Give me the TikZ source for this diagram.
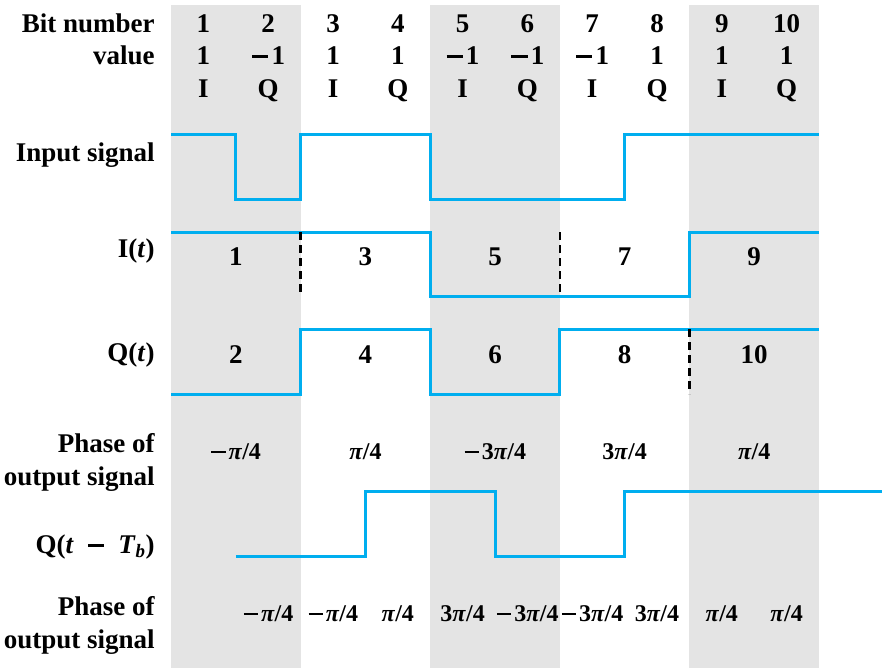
\documentclass[tikz,border=0pt]{standalone}
\usepackage{fontspec}
\setmainfont{Liberation Serif}
\usepackage{tikz}
\definecolor{sigblue}{HTML}{00AEEF}
\definecolor{bandgrey}{HTML}{E4E4E4}
\newcommand{\mns}{\kern0.03em\rule[0.24em]{0.6em}{0.09em}\kern0.12em}

\begin{document}
\begin{tikzpicture}[x=64.8pt, y=-1pt,
  lbl/.style={anchor=base east, align=right, inner sep=0pt,
    font=\fontsize{27}{32.5}\selectfont\bfseries},
  val/.style={anchor=base, inner sep=0pt, font=\fontsize{27}{32}\selectfont\bfseries},
  phase/.style={anchor=base, inner sep=0pt, font=\fontsize{24}{28}\selectfont\bfseries},
  band/.style={fill=bandgrey},
  wave/.style={draw=sigblue, line width=3pt},
  gap/.style={draw=black, line width=2.5pt, dash pattern=on 8pt off 5pt}]
  \useasboundingbox (-2.639,0) rectangle (10.972,669);
  % grey bands, two bits wide
  \foreach \s in {0,4,8} \fill[band] (\s,5) rectangle (\s+2,668);
  % left-hand labels
  \node[lbl] (Lbit)  at (-0.25,33)  {Bit number};
  \node[lbl] (Lval)  at (-0.25,64)  {value};
  \node[lbl] (Lin)   at (-0.25,161) {Input signal};
  \node[lbl] (LI)    at (-0.25,257) {I(\textit{t})};
  \node[lbl] (LQ)    at (-0.25,361) {Q(\textit{t})};
  \node[lbl] (Lph)   at (-0.25,485) {Phase of\\output signal};
  \node[lbl] (LQd)   at (-0.25,553) {Q(\textit{t}\kern0.5em\mns\kern0.4em\textit{T}\textsubscript{\textit{b}})};
  \node[lbl] (Lphd)  at (-0.25,648) {Phase of\\output signal};
  % header rows
  \foreach \v/\c [count=\k] in {1/I,\mns1/Q,1/I,1/Q,\mns1/I,\mns1/Q,\mns1/I,1/Q,1/I,1/Q} {
    \node[val] (bit\k) at (\k-0.5,33) {\k};
    \node[val] (val\k) at (\k-0.5,64) {\v};
    \node[val] (ch\k)  at (\k-0.5,97) {\c};
  }
  % input signal
  \draw[wave] (0,134) -- (1,134) -- (1,199) -- (2,199) -- (2,134) -- (4,134)
    -- (4,199) -- (7,199) -- (7,134) -- (10,134);
  % I(t)
  \draw[wave] (0,232) -- (4,232) -- (4,296) -- (8,296) -- (8,232) -- (10,232);
  \draw[gap] (2,232) -- (2,296);
  \draw[gap] (6,232) -- (6,296);
  \foreach \n [count=\k] in {1,3,5,7,9}
    \node[val] (ibit\k) at (2*\k-1,265) {\n};
  % Q(t)
  \draw[wave] (0,394) -- (2,394) -- (2,329) -- (4,329) -- (4,394) -- (6,394)
    -- (6,329) -- (10,329);
  \draw[gap] (8,329) -- (8,394);
  \foreach \n [count=\k] in {2,4,6,8,10}
    \node[val] (qbit\k) at (2*\k-1,363) {\n};
  % phase of output signal
  \foreach \p [count=\k] in {\mns\textit{π}/4,\textit{π}/4,\mns3\textit{π}/4,3\textit{π}/4,\textit{π}/4}
    \node[phase] (ph\k) at (2*\k-1,459) {\p};
  % Q(t - Tb)
  \draw[wave] (1,556) -- (3,556) -- (3,491) -- (5,491) -- (5,556) -- (7,556)
    -- (7,491) -- (10.972,491);
  % phase after offset
  \foreach \p [count=\k] in {\mns\textit{π}/4,\mns\textit{π}/4,\textit{π}/4,3\textit{π}/4,\mns3\textit{π}/4,
      \mns3\textit{π}/4,3\textit{π}/4,\textit{π}/4,\textit{π}/4}
    \node[phase] (dph\k) at (\k+0.5,621) {\p};
\end{tikzpicture}
\end{document}
